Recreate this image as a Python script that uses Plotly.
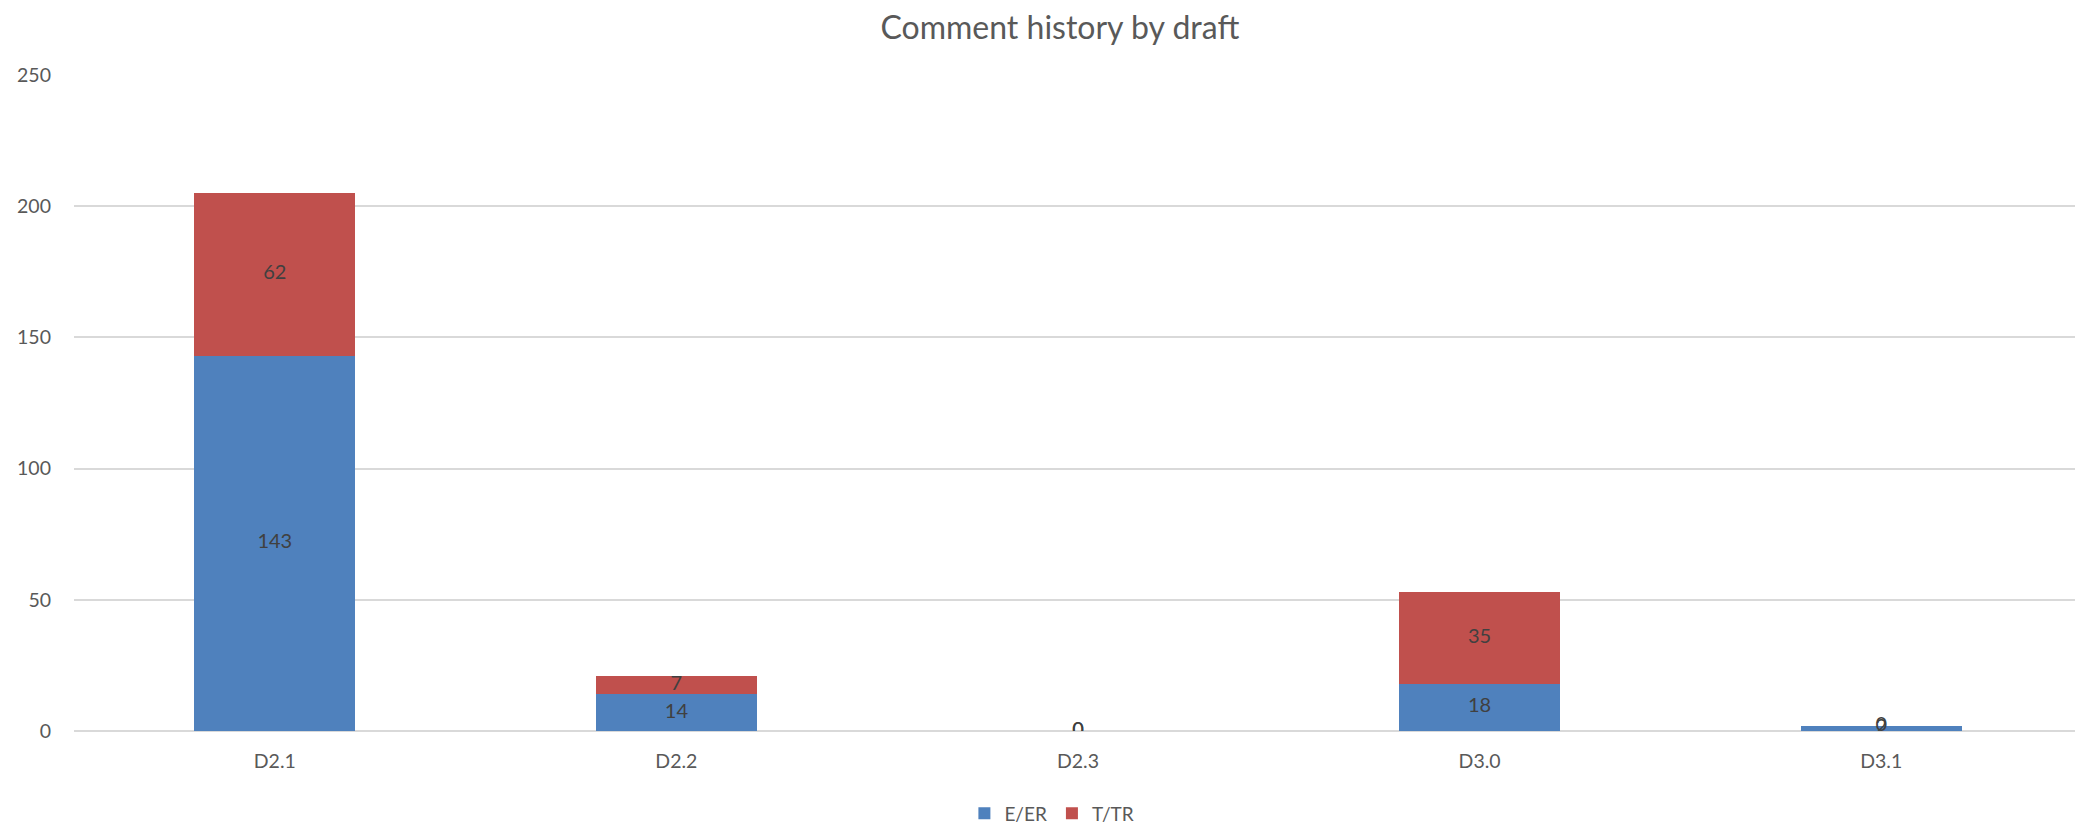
import plotly.graph_objects as go

categories = ["D2.1", "D2.2", "D2.3", "D3.0", "D3.1"]
e_er = [143, 14, 0, 18, 2]
t_tr = [62, 7, 0, 35, 0]
y_ticks = [0, 50, 100, 150, 200, 250]

blue = "#4F81BD"
red = "#C0504D"
label_color = "#404040"
font_family = "Lato, 'Open Sans', sans-serif"

fig = go.Figure()
fig.add_trace(go.Bar(x=categories, y=e_er, name="E/ER", marker=dict(color=blue, line=dict(width=0))))
fig.add_trace(go.Bar(x=categories, y=t_tr, name="T/TR", marker=dict(color=red, line=dict(width=0))))

# data labels centred on each segment
mid_e = [v / 2 for v in e_er]
mid_t = [e + t / 2 for e, t in zip(e_er, t_tr)]
fig.add_trace(go.Scatter(x=categories, y=mid_e, text=[str(v) for v in e_er], mode="text",
                         textfont=dict(size=20, color=label_color, family=font_family),
                         showlegend=False, hoverinfo="skip"))
fig.add_trace(go.Scatter(x=categories, y=mid_t, text=[str(v) for v in t_tr], mode="text",
                         textfont=dict(size=20, color=label_color, family=font_family),
                         showlegend=False, hoverinfo="skip"))

W, H = 2083, 833
fig.update_layout(
    barmode="stack",
    bargap=0.6,
    width=W,
    height=H,
    paper_bgcolor="white",
    plot_bgcolor="white",
    margin=dict(l=63, r=9, t=67, b=99),
    font=dict(family=font_family, color="#595959", size=19),
    title=dict(text="Comment history by draft", x=0.505, xref="container", y=1 - 20 / H, yref="container",
               yanchor="middle", xanchor="center",
               font=dict(size=32, color="#595959", family=font_family)),
    legend=dict(orientation="h", x=0.487, xanchor="center", y=-0.1255, yanchor="middle",
                font=dict(size=19, color="#595959"), traceorder="normal", itemwidth=30),
    yaxis=dict(range=[0, 250], tickvals=y_ticks, showgrid=True, gridcolor="#D9D9D9", gridwidth=1.5,
               zeroline=True, zerolinecolor="#D9D9D9", zerolinewidth=1.5, showline=False,
               ticks="", ticklabelstandoff=22, tickfont=dict(size=19.5, color="#595959")),
    xaxis=dict(showgrid=False, showline=False, ticks="", ticklabelstandoff=16,
               tickfont=dict(size=19.5, color="#595959")),
)

fig.write_html("out.html")
